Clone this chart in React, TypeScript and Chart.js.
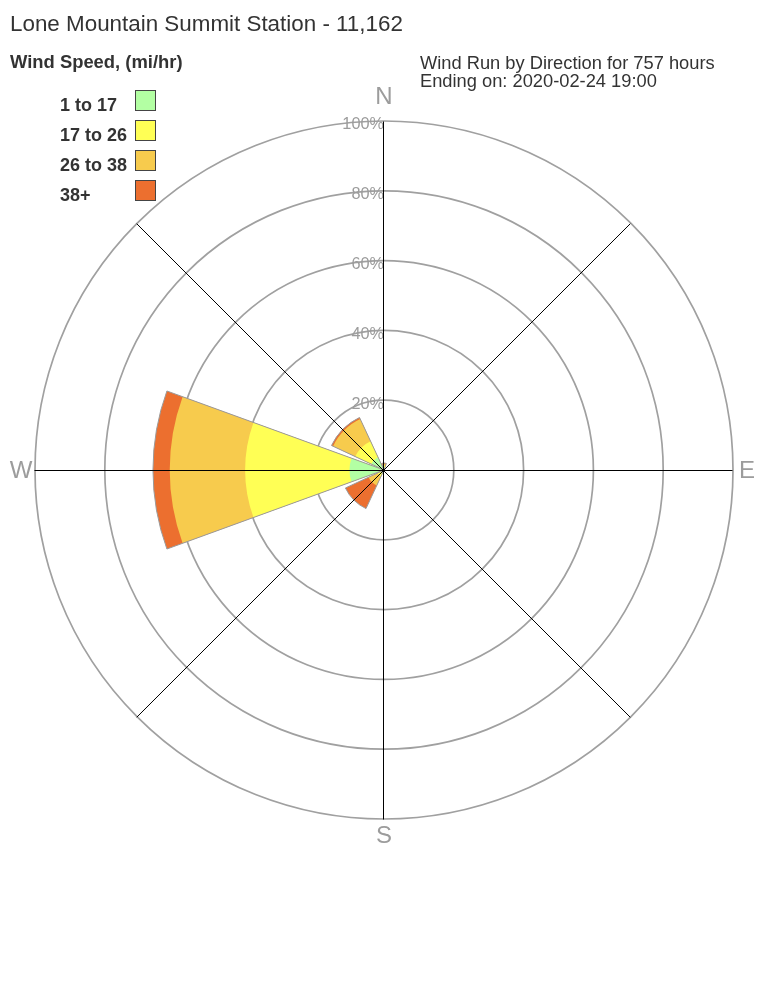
import React, { useEffect, useRef } from "react";
import { Chart, registerables } from "chart.js";

Chart.register(...registerables);

// ---- data ----
const directions = ["N", "NE", "E", "SE", "S", "SW", "W", "NW"];
const speedBins = ["1 to 17", "17 to 26", "26 to 38", "38+"];
const binColors = ["#b3ffa3", "#ffff55", "#f7cb4d", "#ec6f2f"];
// percent of wind run per direction, per speed bin
const bin1to17 = [0.7, 0, 0, 0, 0, 1.0, 9.9, 4.0];
const bin17to26 = [0.6, 0, 0, 0, 0, 1.0, 29.9, 5.1];
const bin26to38 = [0.4, 0, 0, 0, 0, 2.9, 21.6, 7.0];
const bin38plus = [0.3, 0, 0, 0, 0, 7.3, 4.8, 0.5];
const binValues = [bin1to17, bin17to26, bin26to38, bin38plus];
const compass = [
  { text: "N", deg: 0 },
  { text: "E", deg: 90 },
  { text: "S", deg: 180 },
  { text: "W", deg: 270 },
];
const spokeDegrees = [0, 45, 90, 135, 180, 225, 270, 315];
const titleText = "Lone Mountain Summit Station - 11,162";
const legendTitle = "Wind Speed, (mi/hr)";
const infoLines = ["Wind Run by Direction for 757 hours", "Ending on: 2020-02-24 19:00"];

// ---- styles ----
const WEDGE_DEG = 40;
const GAP_DEG = 5;
const FONT = "'Liberation Sans', Arial, sans-serif";
const GRID_GRAY = "#a0a0a0";
const LABEL_GRAY = "#9c9c9c";
const compassOffset: Record<string, number> = { N: 25, E: 14, S: 16.5, W: 14 };

function cumulative(k: number): number[] {
  return directions.map((_, d) => {
    let s = 0;
    for (let j = 0; j <= k; j++) s += binValues[j][d];
    return s;
  });
}
function withGaps(vals: number[]): number[] {
  const out: number[] = [];
  vals.forEach((v) => {
    out.push(v);
    out.push(0);
  });
  return out;
}

const roseDecor = {
  id: "roseDecor",
  beforeDatasetsDraw(chart: any) {
    const s = chart.scales.r;
    const ctx = chart.ctx;
    ctx.save();
    ctx.font = `16.3px ${FONT}`;
    ctx.fillStyle = LABEL_GRAY;
    ctx.textAlign = "right";
    ctx.textBaseline = "middle";
    s.ticks.forEach((t: any) => {
      if (t.value === 0) return;
      const r = s.getDistanceFromCenterForValue(t.value);
      ctx.fillText(t.label, s.xCenter, s.yCenter - r + 4);
    });
    ctx.restore();
  },
  afterDatasetsDraw(chart: any) {
    const s = chart.scales.r;
    const ctx = chart.ctx;
    const R = s.getDistanceFromCenterForValue(s.max);
    const cx = s.xCenter - 0.5;
    const cy = s.yCenter + 0.5;
    ctx.save();
    ctx.strokeStyle = "#000";
    ctx.lineWidth = 1;
    spokeDegrees.forEach((deg) => {
      const a = (deg * Math.PI) / 180;
      ctx.beginPath();
      ctx.moveTo(cx, cy);
      ctx.lineTo(cx + R * Math.sin(a), cy - R * Math.cos(a));
      ctx.stroke();
    });
    ctx.font = `24px ${FONT}`;
    ctx.fillStyle = LABEL_GRAY;
    ctx.textAlign = "center";
    ctx.textBaseline = "middle";
    compass.forEach((c) => {
      const a = (c.deg * Math.PI) / 180;
      const d = R + compassOffset[c.text];
      ctx.fillText(c.text, s.xCenter + d * Math.sin(a), s.yCenter - d * Math.cos(a) + 1);
    });
    ctx.restore();
  },
};

function RoseChart() {
  const ref = useRef<HTMLCanvasElement | null>(null);
  useEffect(() => {
    if (!ref.current) return;
    const labels: string[] = [];
    directions.forEach((d) => {
      labels.push(d);
      labels.push("");
    });
    const binSets = speedBins.map((name, k) => ({
      label: name,
      data: withGaps(cumulative(k)),
      backgroundColor: binColors[k],
      borderWidth: 0,
      order: k + 1,
      angle: (c: any) => (c.dataIndex % 2 === 0 ? WEDGE_DEG : GAP_DEG),
    }));
    const outline = {
      label: "total",
      data: withGaps(cumulative(speedBins.length - 1)),
      backgroundColor: "rgba(0,0,0,0)",
      borderColor: "#9a9a9a",
      borderWidth: 1,
      order: 0,
      angle: (c: any) => (c.dataIndex % 2 === 0 ? WEDGE_DEG : GAP_DEG),
    };
    const chart = new Chart(ref.current, {
      type: "polarArea",
      data: { labels, datasets: [outline, ...binSets] as any },
      options: {
        responsive: false,
        animation: false,
        layout: { padding: { left: 35, right: 35, top: 121, bottom: 189 } },
        plugins: { legend: { display: false }, tooltip: { enabled: false } },
        scales: {
          r: {
            type: "radialLinear",
            startAngle: -WEDGE_DEG / 2,
            min: 0,
            max: 100,
            ticks: { display: false, stepSize: 20, callback: (v: any) => `${v}%` },
            grid: { circular: true, color: GRID_GRAY, lineWidth: 1.7 },
            angleLines: { display: false },
            pointLabels: { display: false },
          },
        },
      } as any,
      plugins: [roseDecor],
    });
    return () => chart.destroy();
  }, []);
  return <canvas ref={ref} width={768} height={1008} style={{ position: "absolute", left: 0, top: 0, display: "block" }} />;
}

export default function App() {
  const text = { position: "absolute" as const, color: "#333", fontFamily: FONT, lineHeight: 1, whiteSpace: "nowrap" as const };
  return (
    <div style={{ position: "fixed", left: 0, top: 0, width: 768, height: 1008, background: "#fff", overflow: "hidden" }}>
      <RoseChart />
      <div style={{ ...text, left: 10, top: 13, fontSize: 22.4 }}>{titleText}</div>
      <div style={{ ...text, left: 10, top: 53, fontSize: 18.4, fontWeight: "bold" }}>{legendTitle}</div>
      {speedBins.map((b, i) => (
        <React.Fragment key={b}>
          <div style={{ ...text, left: 60, top: 95.5 + i * 30, fontSize: 18, fontWeight: "bold" }}>{b}</div>
          <div
            style={{
              position: "absolute",
              left: 135,
              top: 90 + i * 30,
              width: 19,
              height: 19,
              border: "1px solid #444",
              background: binColors[i],
            }}
          />
        </React.Fragment>
      ))}
      {infoLines.map((l, i) => (
        <div key={l} style={{ ...text, left: 420, top: 54 + i * 18, fontSize: 18.3 }}>{l}</div>
      ))}
    </div>
  );
}
